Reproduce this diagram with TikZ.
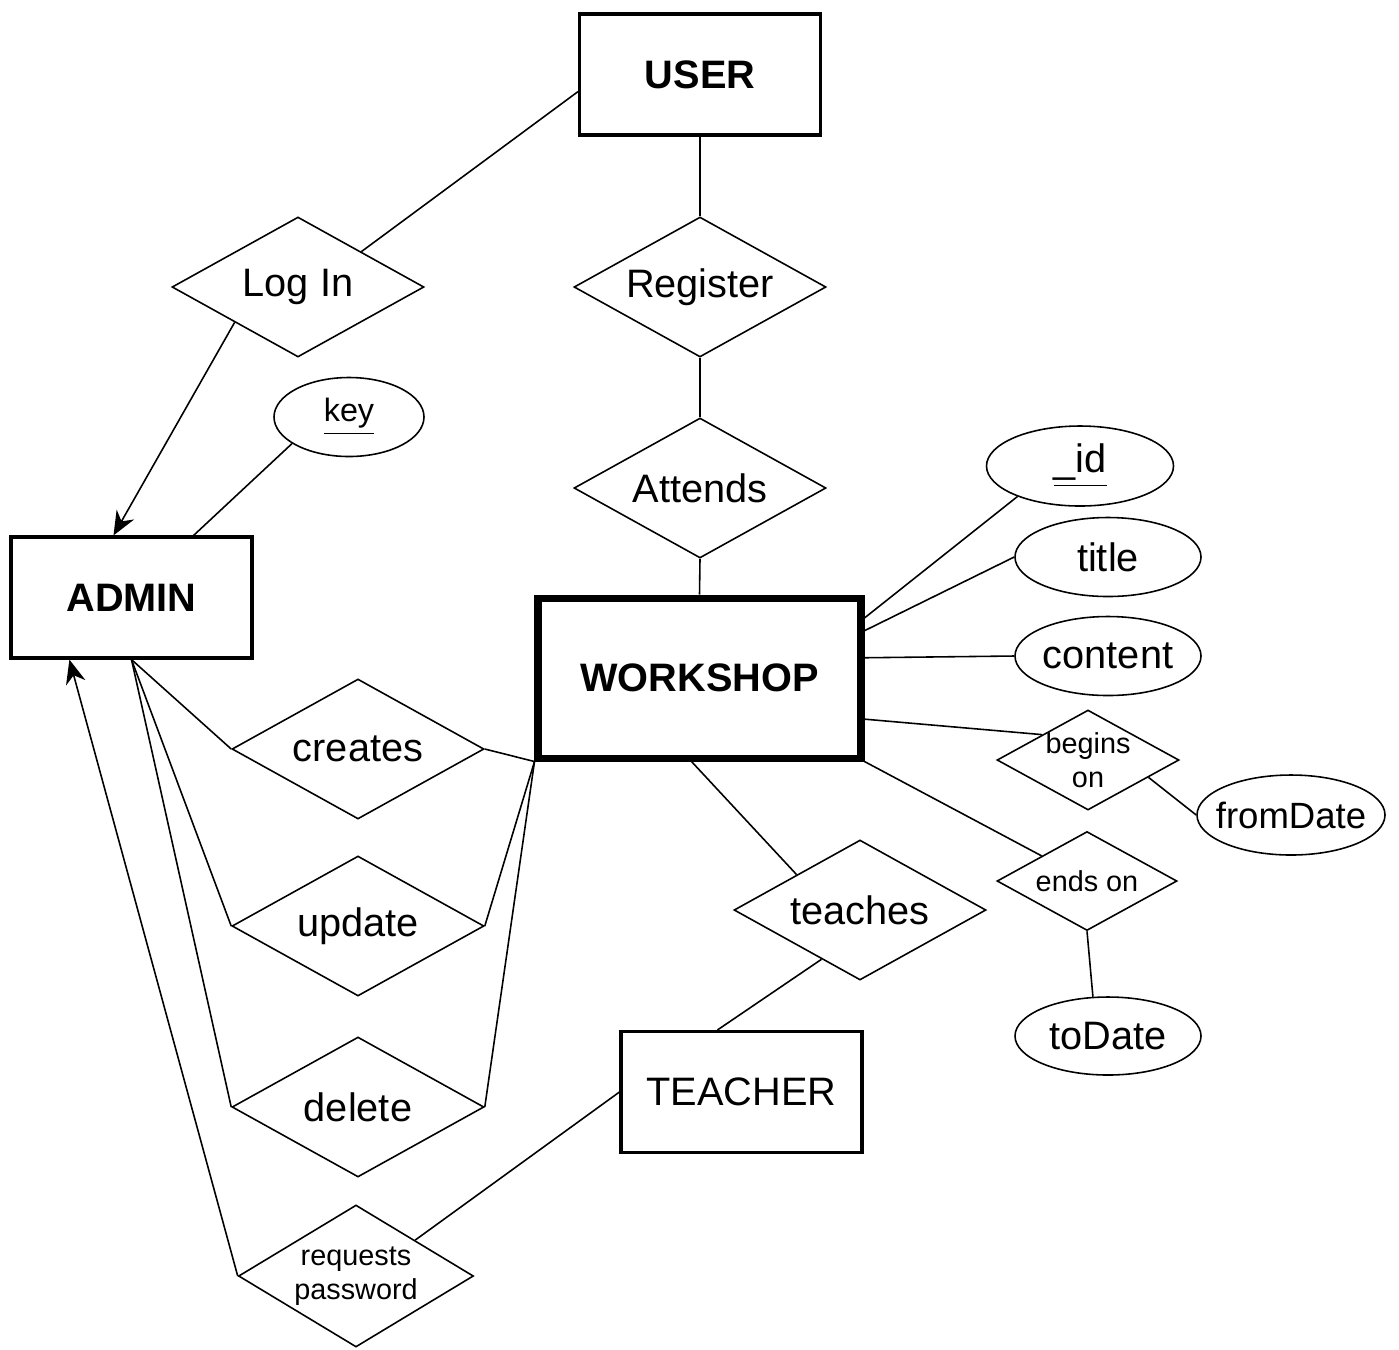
\documentclass[tikz,border=0pt]{standalone}
\usepackage{fontspec}
\setmainfont{Liberation Sans}
\usepackage{tikz}
\usetikzlibrary{shapes.geometric,arrows.meta}

\newcommand{\erfont}{\fontsize{11.3}{13.5}\selectfont}
\newcommand{\erfontsmall}{\fontsize{8.2}{9.8}\selectfont}

\begin{document}
\begin{tikzpicture}[x=0.1mm, y=-0.1mm, line width=0.45pt,
    entity/.style={draw, rectangle, line width=0.9pt, minimum width=2.41cm, minimum height=1.21cm, font=\erfont},
    boldentity/.style={entity, font=\erfont\bfseries},
    relation/.style={draw, diamond, aspect=1.8, inner sep=-2mm, minimum width=2.52cm, minimum height=1.4cm, font=\erfont},
    smallrelation/.style={relation, font=\erfontsmall, align=center},
    attribute/.style={draw, ellipse, inner sep=-1.5mm, minimum width=1.86cm, minimum height=0.79cm, font=\erfont},
    tip/.style={-{Stealth[length=2.4mm, width=2mm]}}]
    \useasboundingbox (0,0) rectangle (1399,1349);

    % entities
    \node[boldentity] (user) at (700,74.5) {USER};
    \node[boldentity] (admin) at (131.5,597.5) {ADMIN};
    \node[boldentity, line width=2pt, minimum width=3.23cm, minimum height=1.6cm] (workshop) at (699.5,678) {WORKSHOP};
    \node[entity] (teacher) at (741.5,1092) {TEACHER};

    % relations
    \node[relation] (login) at (298,287) {Log In};
    \node[relation] (register) at (700,287) {Register};
    \node[relation] (attends) at (700,488) {Attends};
    \node[relation] (creates) at (358,749) {creates};
    \node[relation] (update) at (358,926) {update};
    \node[relation] (delete) at (358,1107) {delete};
    \node[relation] (teaches) at (860,910) {teaches};
    \node[smallrelation, minimum width=2.35cm, minimum height=1.42cm] (reqpw) at (356,1276) {requests\\password};
    \node[smallrelation, minimum width=1.82cm, minimum height=1cm] (beginson) at (1088,760) {begins\\on};
    \node[smallrelation, minimum width=1.8cm, minimum height=0.99cm] (endson) at (1087,881) {ends on};

    % attributes
    \node[attribute, minimum width=1.5cm, font=\fontsize{9.2}{11}\selectfont] (key) at (349,417) {\underline{key}};
    \node[attribute, minimum width=1.87cm, minimum height=0.8cm] (id) at (1080,466) {\underline{\_id}};
    \node[attribute] (title) at (1108,557) {title};
    \node[attribute] (content) at (1108,656) {content};
    \node[attribute, minimum width=1.88cm, minimum height=0.8cm, font=\fontsize{10.4}{12}\selectfont] (fromdate) at (1291,815) {fromDate};
    \node[attribute, minimum height=0.78cm] (todate) at (1108,1036) {toDate};

    % connectors
    \draw (user.188) -- (login.north east);
    \draw (user.south) -- (register.north);
    \draw (register.south) -- (attends.north);
    \draw (attends.south) -- (workshop.north);
    \draw[tip] (login.south west) -- ([xshift=-1.8mm]admin.north);
    \draw (key.205) -- (admin.45);
    \draw (admin.south) -- (creates.west);
    \draw (admin.south) -- (update.west);
    \draw (admin.south) -- (delete.west);
    \draw (creates.east) -- (workshop.south west);
    \draw (update.east) -- (workshop.south west);
    \draw (delete.east) -- (workshop.south west);
    \draw[tip] (reqpw.west) -- (admin.225);
    \draw (reqpw.north east) -- (teacher.west);
    \draw ([xshift=-2.4mm]teacher.north) -- (teaches.232);
    \draw (teaches.north west) -- ([xshift=-0.8mm]workshop.south);
    \draw (workshop.20) -- (id.206);
    \draw (workshop.16) -- (title.west);
    \draw (workshop.7) -- (content.west);
    \draw (workshop.346) -- (beginson.north west);
    \draw (workshop.south east) -- (endson.north west);
    \draw (beginson.344) -- (fromdate.west);
    \draw (endson.south) -- (todate.111);
\end{tikzpicture}
\end{document}
